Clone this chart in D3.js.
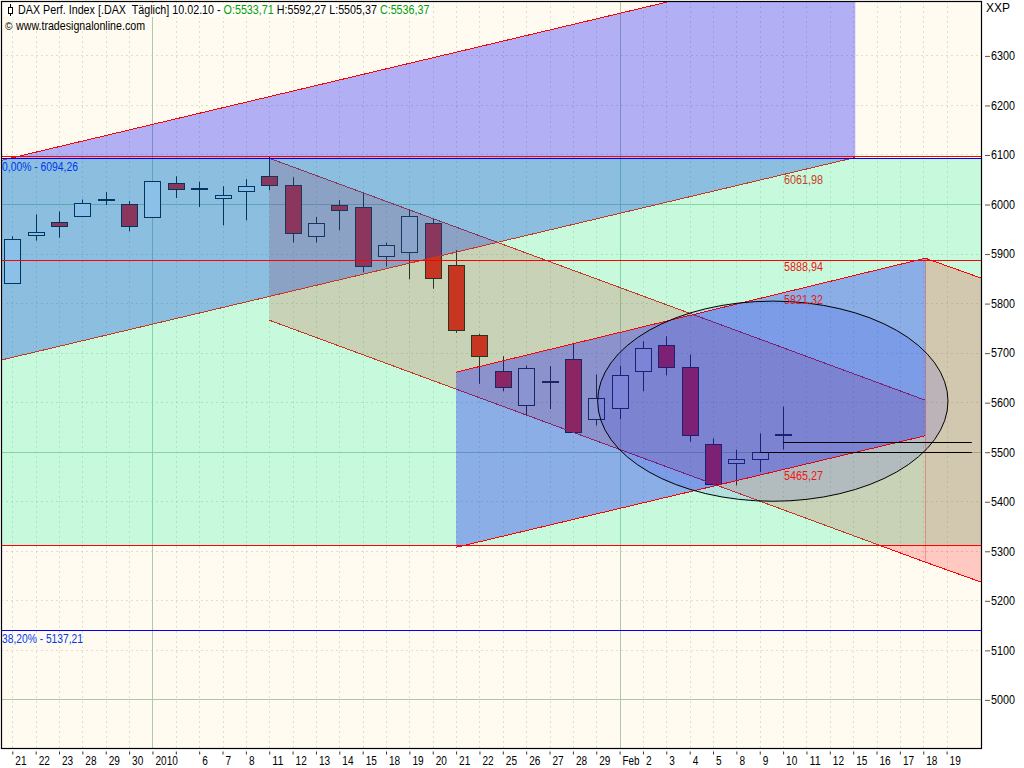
<!DOCTYPE html>
<html><head><meta charset="utf-8">
<style>
html,body{margin:0;padding:0;background:#fff;}
svg{display:block;}
text{font-family:"Liberation Sans",Arial,sans-serif;}
</style>
<script src="https://cdn.jsdelivr.net/npm/d3@7"></script>
</head><body>
<svg id="c" width="1024" height="768"></svg>
<script>
const tickLabels = ["21","22","23","28","29","30","2010","","6","7","8","11","12","13","14","15","18","19","20","21","22","25","26","27","28","29","Feb","2","3","4","5","8","9","10","11","12","15","16","17","18","19"];
const opens  = [5840,5937,5964,5975,6010,6000,5973,6042,6032,6013,6026,6056,6038,5935,5998,5994,5896,5903,5962,5877,5735,5663,5594,5643,5687,5566,5588,5663,5715,5671,5515,5477,5485,5533.71];
const highs  = [5936,5980,5986,6010,6025,6007,6046,6057,6046,6037,6051,6096,6055,5975,6009,6023,5923,5990,5972,5908,5739,5694,5675,5674,5719,5657,5674,5724,5734,5697,5528,5505,5538,5592.27];
const lows   = [5840,5927,5933,5975,5999,5946,5973,6013,5995,5958,5968,6029,5923,5923,5948,5863,5875,5849,5830,5741,5638,5623,5573,5587,5539,5554,5567,5623,5655,5521,5433,5433,5460,5505.37];
const closes = [5929,5943,5955,6002,6010.5,5955,6046,6030,6030,6018,6036,6038,5941,5962,5988,5875,5917,5976,5851,5746,5694,5630,5669,5642,5540,5608,5655,5709,5671,5534,5435,5485,5499,5536.37];
const priceTicks = [6300,6200,6100,6000,5900,5800,5700,5600,5500,5400,5300,5200,5100,5000];
const solidPrices = [6000,5500,5000];
const solidIdx = [6,26];
// drawing objects, as [bar index, price]
const blueChannelA = [[-0.48,6089],[36.09,6499],[36.09,6095],[-0.48,5686]];
const redChannel   = [[11,6093.5],[39.09,5605],[39.09,5278],[11,5766.5]];
const redTail      = [[39.09,5891.6],[41.49,5851.3],[41.49,5237.6],[39.09,5278]];
const blueChannelB = [[19,5661.5],[39.09,5891.6],[39.09,5533.3],[19,5308]];
const fibZone = [6092.5,5311];
const levelLines = [6097,5887.5,5311];
const fibLevels = [[6092.5,"0,00% - 6094,26",76],[5139.5,"38,20% - 5137,21",81]];
const trendLabels = [[33,6041,"6061,98","#c83c28"],[33,5865,"5888,94","#f01414"],[33,5799,"5821,32","#e02020"],[33,5444,"5465,27","#f01414"]];
const ellipseCentre = [32.56,5603]; const ellipseRadii = [7.5,202];
const blackLevels = [[33,5519.6],[32,5499.4]];
const endIdx = 41.08;

const L=1.5,R=981.5,T=1.5,B=748.5;
const x=d3.scaleLinear().domain([0,40]).range([12.3,946.6]);
const y=d3.scaleLinear().domain([5000,6300]).range([699.9,55.9]);
const rowY=v=>Math.floor(y(v))+.5;
const svg=d3.select("#c");
svg.append("defs").append("clipPath").attr("id","plot").append("rect").attr("x",L).attr("y",T).attr("width",R-L).attr("height",B-T);
svg.append("rect").attr("x",L).attr("y",T).attr("width",R-L).attr("height",B-T).attr("fill","#fffbf0");
const g=svg.append("g").attr("clip-path","url(#plot)");
const xL=tickLabels.map((d,i)=>i);
const line=d3.line().x(d=>x(d[0])).y(d=>y(d[1]));
const poly=p=>line(p)+"Z";
const fit=(s,w)=>s.attr("textLength",w).attr("lengthAdjust","spacingAndGlyphs");
// grid
const gridC="#b0c8aa";
g.selectAll(".vd").data(xL).join("line").attr("x1",d=>Math.round(x(d))+.5).attr("x2",d=>Math.round(x(d))+.5).attr("y1",T).attr("y2",B)
 .attr("stroke",gridC).attr("stroke-dasharray",d=>solidIdx.includes(d)?null:"1 4");
g.selectAll(".hd").data(priceTicks).join("line").attr("x1",L).attr("x2",R).attr("y1",rowY).attr("y2",rowY)
 .attr("stroke",gridC).attr("stroke-dasharray",d=>solidPrices.includes(d)?null:"1 4");
// candles
const bw=16;
const cg=g.append("g");
opens.forEach((o,i)=>{
  const c=closes[i],px=Math.round(x(i))+.5;
  cg.append("line").attr("x1",px).attr("x2",px).attr("y1",y(highs[i])).attr("y2",y(lows[i])).attr("stroke","#000");
  const t=rowY(Math.max(o,c)),b=rowY(Math.min(o,c));
  cg.append("rect").attr("x",px-8).attr("width",bw).attr("y",t).attr("height",Math.max(b-t,1))
    .attr("fill",c>=o?"#ffffff":"#ff0000").attr("stroke","#000");
});
const red="#ff0000";
const drawPoly=(p,fill,a,edges)=>{
  g.append("path").attr("d",poly(p)).attr("fill",fill).attr("fill-opacity",a);
  edges.forEach(e=>g.append("path").attr("d",line(e)).attr("fill","none").attr("stroke",red).attr("stroke-width",1).attr("shape-rendering","crispEdges"));
};
drawPoly(redChannel,"#ff0000",.2,[[redChannel[0],redChannel[1]],[redChannel[3],redChannel[2]]]);
drawPoly(blueChannelA,"#0000ff",.3,[[blueChannelA[0],blueChannelA[1]],[blueChannelA[3],blueChannelA[2]]]);
// green zone overlays the channels beneath it
g.append("rect").attr("x",L).attr("width",R-L).attr("y",rowY(fibZone[0])).attr("height",rowY(fibZone[1])-rowY(fibZone[0])).attr("fill","#00f596").attr("fill-opacity",.22);
drawPoly(redTail,"#ff0000",.2,[[redTail[0],redTail[1]],[redTail[3],redTail[2]]]);
g.append("line").attr("x1",x(39.09)).attr("x2",x(39.09)).attr("y1",y(5891.6)).attr("y2",y(5278)).attr("stroke",red).attr("stroke-opacity",.3).attr("shape-rendering","crispEdges");
drawPoly(blueChannelB,"#0000ff",.3,[[blueChannelB[0],blueChannelB[1]],[blueChannelB[3],blueChannelB[2]]]);
// horizontal levels
levelLines.forEach(v=>g.append("line").attr("x1",L).attr("x2",R).attr("y1",rowY(v)).attr("y2",rowY(v)).attr("stroke",red));
fibLevels.forEach(d=>{
  g.append("line").attr("x1",L).attr("x2",R).attr("y1",rowY(d[0])).attr("y2",rowY(d[0])).attr("stroke","#0000ff");
  g.append("text").attr("x",2).attr("y",Math.floor(y(d[0]))+12.5).attr("font-size",12).attr("fill","#0038f0").text(d[1]).call(fit,d[2]);
});
// ellipse
g.append("ellipse").attr("cx",x(ellipseCentre[0])).attr("cy",y(ellipseCentre[1]))
 .attr("rx",x(ellipseCentre[0]+ellipseRadii[0])-x(ellipseCentre[0])).attr("ry",y(ellipseCentre[1]-ellipseRadii[1])-y(ellipseCentre[1]))
 .attr("fill","#0000ff").attr("fill-opacity",.1).attr("stroke","#000").attr("stroke-width",1);
blackLevels.forEach(d=>g.append("line").attr("x1",x(d[0])).attr("x2",x(endIdx)).attr("y1",rowY(d[1])).attr("y2",rowY(d[1])).attr("stroke","#000"));
// trend labels
trendLabels.forEach(d=>g.append("text").attr("x",x(d[0])+1).attr("y",y(d[1])).attr("font-size",12).attr("fill",d[3]).text(d[2]).call(fit,39));
// frame
svg.append("rect").attr("x",L).attr("y",T).attr("width",R-L).attr("height",B-T).attr("fill","none").attr("stroke","#000").attr("stroke-width",1.2);
// axes
const ax=svg.append("g").attr("transform",`translate(0,${B+3})`).call(d3.axisBottom(x).tickValues(xL).tickFormat(d=>tickLabels[d]).tickSize(3).tickPadding(2));
ax.select(".domain").remove();
ax.selectAll("text").attr("text-anchor","start").attr("dx",2.5).attr("font-size",12).attr("fill","#000").attr("font-family","Liberation Sans")
  .each(function(d){const s=tickLabels[d]; if(s) d3.select(this).call(fit,isNaN(+s)?17:s.length*5.6);});
ax.selectAll("line").attr("stroke","#333");
const ay=svg.append("g").attr("transform",`translate(985,0)`).call(d3.axisRight(y).tickValues(priceTicks).tickSize(5).tickPadding(1).tickFormat(d3.format("d")));
ay.select(".domain").remove();
ay.selectAll("text").attr("font-size",12).attr("fill","#000").attr("font-family","Liberation Sans").call(fit,24);
ay.selectAll("line").attr("stroke","#555");
svg.append("text").attr("x",986).attr("y",12).attr("font-size",12).attr("fill","#000").text("XXP");
// header
svg.append("rect").attr("x",3).attr("y",3).attr("width",428).attr("height",14).attr("fill","#fffefa");
svg.append("line").attr("x1",10.5).attr("x2",10.5).attr("y1",4).attr("y2",16).attr("stroke","#000");
svg.append("rect").attr("x",8.5).attr("y",7.5).attr("width",4).attr("height",6).attr("fill","#fff").attr("stroke","#000");
const h=svg.append("text").attr("font-size",12).attr("fill","#000").style("white-space","pre");
h.append("tspan").text("DAX Perf. Index [.DAX  Täglich] 10.02.10 - ");
h.append("tspan").attr("fill","#00a000").text("O:5533,71 ");
h.append("tspan").text("H:5592,27 L:5505,37 ");
h.append("tspan").attr("fill","#00a000").text("C:5536,37");
const hk=412/h.node().getComputedTextLength();
h.attr("transform",`translate(18,14) scale(${hk},1)`);
svg.append("text").attr("x",5).attr("y",30).attr("font-size",10).attr("fill","#000").text("©");
svg.append("text").attr("x",16).attr("y",30).attr("font-size",12).attr("fill","#000").text("www.tradesignalonline.com").call(fit,129);
</script></body></html>
